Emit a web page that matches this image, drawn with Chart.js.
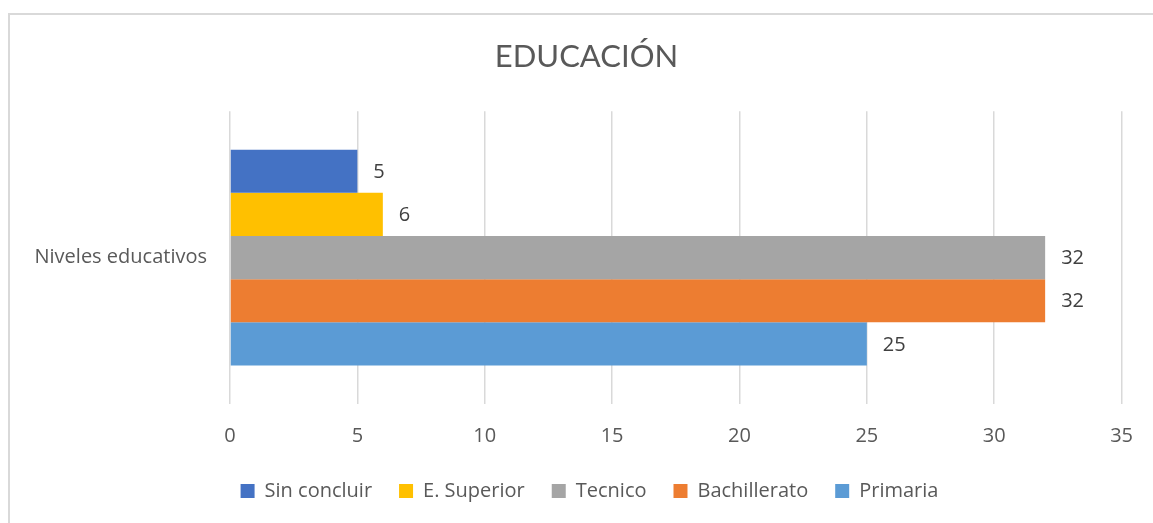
<!DOCTYPE html>
<html>
<head>
<meta charset="utf-8">
<script src="https://cdn.jsdelivr.net/npm/chart.js@4.4.0/dist/chart.umd.min.js"></script>
<style>
  body { margin: 0; background: #fff; }
  #frame { position: absolute; left: 8px; top: 13px; width: 1300px; height: 700px; border: 2px solid #d9d9d9; box-sizing: border-box; }
  #wrap { position: absolute; left: 0; top: 0; width: 1153px; height: 523px; }
</style>
</head>
<body>
<div id="frame"></div>
<div id="wrap"><canvas id="chart" width="1153" height="523"></canvas></div>
<script>
// chart data
const categories = ["Niveles educativos"];
const seriesNames = ["Sin concluir", "E. Superior", "Tecnico", "Bachillerato", "Primaria"];
const seriesValues = [[5], [6], [32], [32], [25]];
const seriesColors = ["#4472C4", "#FFC000", "#A5A5A5", "#ED7D31", "#5B9BD5"];
const xTicks = [0, 5, 10, 15, 20, 25, 30, 35];

const FONT = "'Open Sans', sans-serif";
const TITLE_FONT = "Lato, sans-serif";

// draws the value next to the end of each bar
const valueLabels = {
  id: "valueLabels",
  afterDatasetsDraw(chart) {
    const ctx = chart.ctx;
    ctx.save();
    ctx.font = "20px " + FONT;
    ctx.fillStyle = "#404040";
    ctx.textAlign = "left";
    ctx.textBaseline = "middle";
    chart.data.datasets.forEach((ds, i) => {
      chart.getDatasetMeta(i).data.forEach((bar, j) => {
        ctx.fillText(ds.data[j], bar.x + 16, bar.y + 1);
      });
    });
    ctx.restore();
  }
};

// title and legend are centred on the whole frame, not on the canvas minus padding
const shiftBlocks = {
  id: "shiftBlocks",
  afterLayout(chart) {
    chart.titleBlock.left += 25;
    chart.titleBlock.right += 25;
    chart.legend.left += 28;
    chart.legend.right += 28;
  }
};

const ctx = document.getElementById("chart").getContext("2d");
new Chart(ctx, {
  type: "bar",
  data: {
    labels: categories,
    datasets: seriesNames.map((name, i) => ({
      label: name,
      data: seriesValues[i],
      backgroundColor: seriesColors[i],
      borderWidth: 0,
      barPercentage: 1,
      categoryPercentage: 0.737
    }))
  },
  options: {
    indexAxis: "y",
    responsive: false,
    animation: false,
    layout: { padding: { left: 0, right: 30, top: 0, bottom: 12 } },
    plugins: {
      tooltip: { enabled: false },
      title: {
        display: true,
        text: "EDUCACIÓN",
        color: "#595959",
        font: { family: TITLE_FONT, size: 31, weight: "normal" },
        padding: { top: 38, bottom: 36 }
      },
      legend: {
        position: "bottom",
        labels: {
          color: "#595959",
          font: { family: FONT, size: 20 },
          boxWidth: 14,
          boxHeight: 14,
          padding: 27
        }
      }
    },
    scales: {
      x: {
        min: 0,
        max: 35,
        afterBuildTicks: s => { s.ticks = xTicks.map(v => ({ value: v })); },
        afterFit: s => { s.height = 50; },
        grid: { color: "#d9d9d9", lineWidth: 1.5, drawTicks: false },
        border: { display: false },
        ticks: { color: "#595959", font: { family: FONT, size: 20 }, padding: 20 }
      },
      y: {
        afterFit: s => { s.width = 230; },
        grid: { display: false, drawTicks: false },
        border: { display: false },
        ticks: { color: "#595959", font: { family: FONT, size: 20 }, padding: 23 }
      }
    }
  },
  plugins: [valueLabels, shiftBlocks]
});
</script>
</body>
</html>
